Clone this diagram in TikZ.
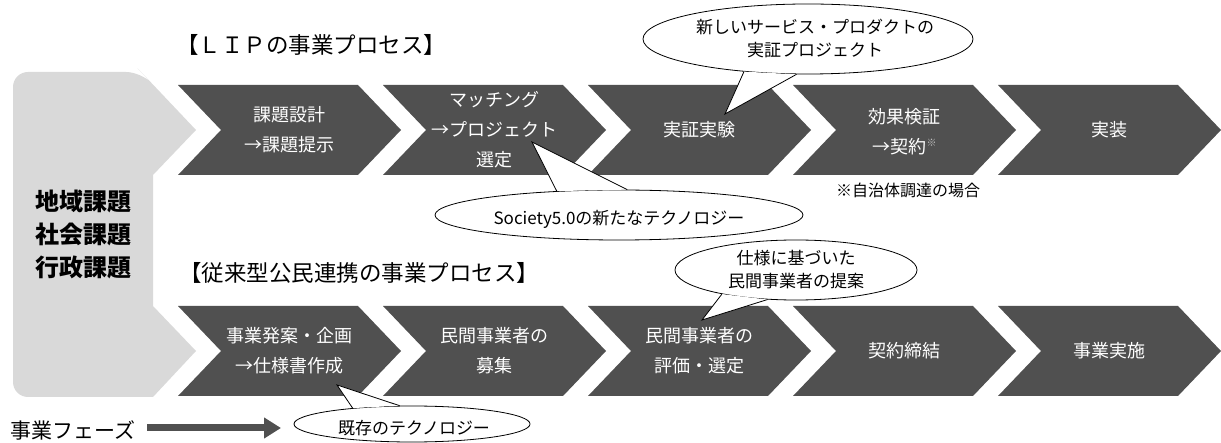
\documentclass[tikz,border=0pt]{standalone}
\usepackage{fontspec}
\setmainfont{Noto Sans CJK JP}
\usetikzlibrary{shapes.geometric,arrows.meta}
\definecolor{chev}{HTML}{505050}
\definecolor{bgray}{HTML}{D9D9D9}
\definecolor{notegray}{HTML}{BFBFBF}
\begin{document}
\begin{tikzpicture}[x=1pt,y=-1pt,
  chevron/.style={fill=chev},
  ctext/.style={text=white,font=\fontsize{18}{30}\selectfont,align=center,inner sep=0pt},
  bubble/.style={ellipse,draw=black,fill=white,line width=0.8pt,inner sep=0pt},
  btext/.style={font=\fontsize{17}{23}\selectfont,align=center,inner sep=0pt},
  tail/.style={draw=black,line width=0.8pt},
  ttl/.style={font=\fontsize{22.5}{26}\selectfont,anchor=west,inner sep=0pt},
  phasearrow/.style={draw=chev,line width=7pt,-{Triangle[length=17pt,width=20pt]}}
]
\useasboundingbox (0,0) rectangle (1221,443);

% left gray block
\fill[bgray] (13,200) [rounded corners=15pt] -- (13,72) -- (141,72) -- (148,79.3)
  [sharp corners] -- (196,130) -- (153,175) -- (153,306) -- (196,351) -- (153,397) -- (120,397)
  [rounded corners=15pt] -- (13,397) -- (13,300) [sharp corners] -- cycle;

% chevrons
\foreach \L in {178,383,588,793,998}{
  \fill[chevron] (\L,85) -- ++(180,0) -- ++(43,45) -- ++(-43,45) -- ++(-180,0) -- ++(43,-45) -- cycle;
  \fill[chevron] (\L,306) -- ++(180,0) -- ++(43,45) -- ++(-43,45) -- ++(-180,0) -- ++(43,-45) -- cycle;
}

% chevron texts, LIP row
\node[ctext] (u1) at (289.5,130) {課題設計\\→課題提示};
\node[ctext] (u2) at (494.5,130) {マッチング\\→プロジェクト\\選定};
\node[ctext] (u3) at (699.5,130) {実証実験};
\node[ctext] (u4) at (904.5,132) {効果検証\\→契約\raisebox{7pt}{\color{notegray}\fontsize{10}{10}\selectfont ※}};
\node[ctext] (u5) at (1109.5,130) {実装};

% chevron texts, conventional row
\node[ctext] (l1) at (289.5,351) {事業発案・企画\\→仕様書作成};
\node[ctext] (l2) at (494.5,351) {民間事業者の\\募集};
\node[ctext] (l3) at (699.5,351) {民間事業者の\\評価・選定};
\node[ctext] (l4) at (904.5,351) {契約締結};
\node[ctext] (l5) at (1109.5,351) {事業実施};

% titles and labels
\node[ttl] (t1) at (176,45) {【ＬＩＰの事業プロセス】};
\node[ttl] (t2) at (179,273) {【従来型公民連携の事業プロセス】};
\node[font=\fontsize{24}{33}\selectfont\bfseries,align=center,inner sep=0pt] (issues) at (83,234) {地域課題\\社会課題\\行政課題};
\node[font=\fontsize{16}{20}\selectfont,inner sep=0pt] (note) at (908,190) {※自治体調達の場合};

% phase arrow
\node[font=\fontsize{21}{24}\selectfont,anchor=west,inner sep=0pt] (phase) at (10,430) {事業フェーズ};
\coordinate (pstart) at (147,428);
\coordinate (pend) at (281,428);
\draw[phasearrow] (pstart) -- (pend);

% bubble A
\coordinate (tA) at (725,114);
\node[bubble,minimum width=330pt,minimum height=70pt] (bA) at (808,39) {};
\fill[white] (bA.207) -- (tA) -- (bA.252) -- cycle;
\draw[tail] (bA.207) -- (tA) -- (bA.252);
\node[btext] (bAt) at (815,39) {新しいサービス・プロダクトの\\実証プロジェクト};

% bubble B
\coordinate (tB) at (532,142);
\node[bubble,minimum width=368pt,minimum height=50pt] (bB) at (619,215) {};
\fill[white] (bB.159) -- (tB) -- (bB.72) -- cycle;
\draw[tail] (bB.159) -- (tB) -- (bB.72);
\node[btext] (bBt) at (619,219) {Society5.0の新たなテクノロジー};

% bubble C
\coordinate (tC) at (702,320);
\node[bubble,minimum width=242pt,minimum height=60pt] (bC) at (796,270) {};
\fill[white] (bC.198) -- (tC) -- (bC.226) -- cycle;
\draw[tail] (bC.198) -- (tC) -- (bC.226);
\node[btext] (bCt) at (796,270) {仕様に基づいた\\民間事業者の提案};

% bubble D
\coordinate (tD) at (337,385);
\node[bubble,minimum width=236pt,minimum height=36pt] (bD) at (412,424) {};
\fill[white] (bD.165) -- (tD) -- (bD.124) -- cycle;
\draw[tail] (bD.165) -- (tD) -- (bD.124);
\node[btext] (bDt) at (414,428) {既存のテクノロジー};
\end{tikzpicture}
\end{document}
